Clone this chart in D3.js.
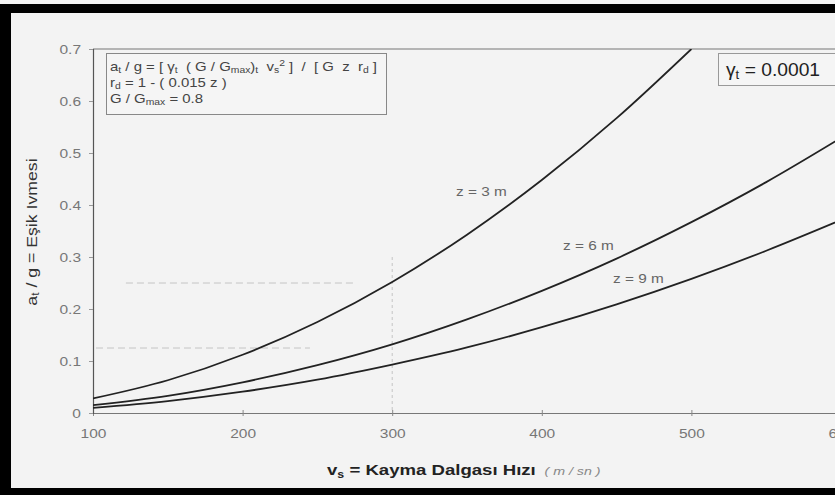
<!DOCTYPE html>
<html><head><meta charset="utf-8">
<script src="https://cdn.jsdelivr.net/npm/d3@7"></script>
<style>
html,body{margin:0;padding:0;background:#000;}
svg{display:block;font-family:"Liberation Sans",Arial,sans-serif;}
svg text{white-space:pre;}
</style></head>
<body>
<svg id="c" width="835" height="495"></svg>
<script>
const vs = [100,150,200,250,300,350,400,450,500,550,600];
const z3 = [0.028,0.063,0.112,0.175,0.252,0.343,0.448,0.567,0.700,null,null];
const z6 = [0.015,0.033,0.059,0.092,0.132,0.180,0.235,0.297,0.367,0.444,0.529];
const z9 = [0.010,0.023,0.041,0.064,0.093,0.126,0.165,0.209,0.258,0.312,0.371];
const seriesNames = ["z = 3 m","z = 6 m","z = 9 m"];
const xTicks = [100,200,300,400,500,600];
const yTicks = [0,0.1,0.2,0.3,0.4,0.5,0.6,0.7];

const svg = d3.select("#c");
svg.append("rect").attr("x",0).attr("y",0).attr("width",835).attr("height",495).attr("fill","#000");
svg.append("rect").attr("x",0).attr("y",0).attr("width",835).attr("height",4).attr("fill","#f4f4f4");
svg.append("rect").attr("x",11).attr("y",13).attr("width",824).attr("height",475).attr("fill","#f3f3f3");

const x = d3.scaleLinear().domain([100,600]).range([93,841]);
const y = d3.scaleLinear().domain([0,0.7]).range([413,49]);

// faint reading guide lines
const g0 = svg.append("g").attr("stroke","#c4c4c4").attr("stroke-width",1).attr("stroke-dasharray","7,4").attr("fill","none");
g0.append("line").attr("x1",x(300)).attr("x2",x(300)).attr("y1",y(0.3)).attr("y2",y(0)).attr("stroke-dasharray","3,3");
g0.append("line").attr("x1",x(122)).attr("x2",x(275)).attr("y1",y(0.25)).attr("y2",y(0.25));
g0.append("line").attr("x1",x(102)).attr("x2",x(245)).attr("y1",y(0.125)).attr("y2",y(0.125));

// top frame line
svg.append("line").attr("x1",x(100)).attr("x2",835).attr("y1",y(0.7)).attr("y2",y(0.7)).attr("stroke","#777").attr("stroke-width",1.2);

// axes
const xAxis = d3.axisBottom(x).tickValues(xTicks).tickSize(0).tickPadding(15).tickFormat(d3.format("d"));
const gx = svg.append("g").attr("transform",`translate(0,${y(0)})`).call(xAxis);
gx.select(".domain").attr("stroke","#777").attr("stroke-width",1.2);
gx.selectAll(".tick text").attr("fill","#777").attr("font-size",13.5).attr("transform","scale(1.15,1)").attr("x",0)
  .attr("font-family","Liberation Sans, Arial, sans-serif");
gx.selectAll(".tick").append("line").attr("y1",-3).attr("y2",3).attr("stroke","#888");

const yAxis = d3.axisLeft(y).tickValues(yTicks).tickSize(4).tickPadding(10).tickFormat(d=> d===0?"0":d3.format(".1f")(d));
const gy = svg.append("g").attr("transform",`translate(${x(100)},0)`).call(yAxis);
gy.select(".domain").attr("stroke","#555").attr("stroke-width",1.2);
gy.selectAll(".tick line").attr("stroke","#999");
gy.selectAll(".tick text").attr("fill","#777").attr("font-size",13.5).attr("x",-12/1.15).attr("transform","scale(1.15,1)")
  .attr("font-family","Liberation Sans, Arial, sans-serif");

// curves
svg.append("clipPath").attr("id","clip").append("rect").attr("x",x(100)).attr("y",y(0.7)).attr("width",800).attr("height",y(0)-y(0.7));
const line = d3.line().defined(d=>d[1]!=null).x(d=>x(d[0])).y(d=>y(d[1])).curve(d3.curveMonotoneX);
[z3,z6,z9].forEach(s=>{
  svg.append("path").datum(vs.map((v,i)=>[v,s[i]])).attr("d",line)
    .attr("fill","none").attr("stroke","#222").attr("stroke-width",1.8).attr("clip-path","url(#clip)");
});

// curve labels
const lab = svg.append("g").attr("fill","#666").attr("font-size",13);
[[456,196],[563,250],[613,283]].forEach((p,i)=>{
  lab.append("text").attr("transform",`translate(${p[0]},${p[1]}) scale(1.18,1)`).text(seriesNames[i]);
});

// formula box
svg.append("rect").attr("x",106.5).attr("y",53.5).attr("width",280).attr("height",61).attr("fill","#f5f5f5").attr("stroke","#888");
const f = svg.append("g").attr("fill","#444").attr("font-size",13);
const t1 = f.append("text").attr("transform","translate(110,71) scale(1.15,1)");
t1.append("tspan").text("a");
t1.append("tspan").attr("font-size",9).attr("dy",2).text("t");
t1.append("tspan").attr("dy",-2).text(" / g = [ γ");
t1.append("tspan").attr("font-size",9).attr("dy",2).text("t");
t1.append("tspan").attr("dy",-2).text("  ( G / G");
t1.append("tspan").attr("font-size",9).attr("dy",2).text("max");
t1.append("tspan").attr("dy",-2).text(")");
t1.append("tspan").attr("font-size",9).attr("dy",2).text("t");
t1.append("tspan").attr("dy",-2).text("  v");
t1.append("tspan").attr("font-size",9).attr("dy",2).text("s");
t1.append("tspan").attr("font-size",9).attr("dy",-7).text("2");
t1.append("tspan").attr("dy",5).text(" ]  /  [ G  z  r");
t1.append("tspan").attr("font-size",9).attr("dy",2).text("d");
t1.append("tspan").attr("dy",-2).text(" ]");
const t2 = f.append("text").attr("transform","translate(110,87) scale(1.15,1)");
t2.append("tspan").text("r");
t2.append("tspan").attr("font-size",9).attr("dy",2).text("d");
t2.append("tspan").attr("dy",-2).text(" = 1 - ( 0.015 z )");
const t3 = f.append("text").attr("transform","translate(110,103) scale(1.15,1)");
t3.append("tspan").text("G / G");
t3.append("tspan").attr("font-size",9).attr("dy",2).text("max");
t3.append("tspan").attr("dy",-2).text(" = 0.8");

// gamma box
svg.append("rect").attr("x",718.5).attr("y",53.5).attr("width",130).attr("height",32).attr("fill","#f5f5f5").attr("stroke","#999");
const gt = svg.append("text").attr("transform","translate(726,76) scale(1.1,1)").attr("fill","#222").attr("font-size",17.5);
gt.append("tspan").text("γ");
gt.append("tspan").attr("font-size",12).attr("dy",3).text("t");
gt.append("tspan").attr("dy",-3).text(" = 0.0001");

// x label
const xl = svg.append("text").attr("transform","translate(327,475) scale(1.24,1)").attr("fill","#222").attr("font-size",15).attr("font-weight","bold");
xl.append("tspan").text("v");
xl.append("tspan").attr("font-size",10).attr("dy",3).text("s");
xl.append("tspan").attr("dy",-3).text(" = Kayma Dalgası Hızı");
xl.append("tspan").attr("font-size",11.5).attr("font-weight","normal").attr("font-style","italic").attr("fill","#888").attr("dx",7).text("( m / sn )");

// y label
const yl = svg.append("text").attr("transform","translate(37,232) rotate(-90) scale(1.18,1)").attr("text-anchor","middle").attr("fill","#333").attr("font-size",15);
yl.append("tspan").text("a");
yl.append("tspan").attr("font-size",10).attr("dy",2).text("t");
yl.append("tspan").attr("dy",-2).text(" / g = Eşik Ivmesi");
</script>
</body></html>
